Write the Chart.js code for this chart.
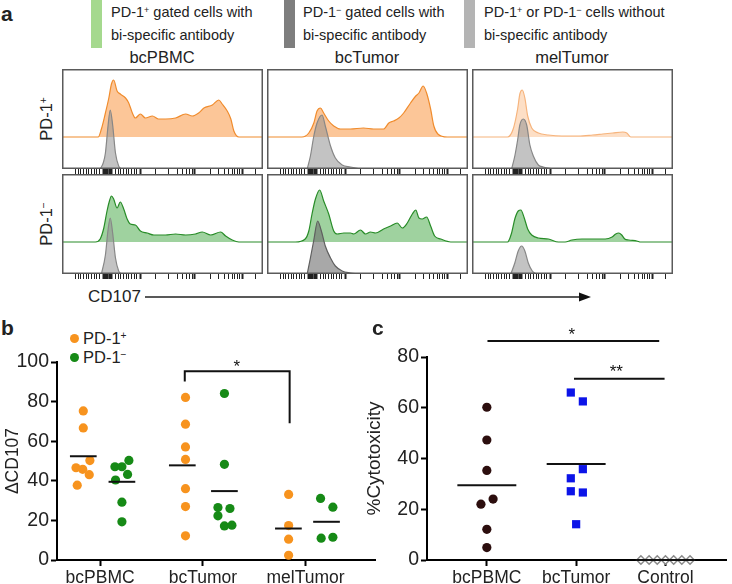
<!DOCTYPE html>
<html>
<head>
<meta charset="utf-8">
<script src="https://cdn.jsdelivr.net/npm/chart.js@4.4.1/dist/chart.umd.min.js"></script>
<style>
body { margin: 0; background: #fff; }
#fig { position: relative; width: 732px; height: 584px; overflow: hidden;
       font-family: "Liberation Sans", Arial, sans-serif; color: #222; }
#fig canvas, .abs { position: absolute; }
sup { font-size: 0.62em; line-height: 0; position: relative; top: -0.45em; vertical-align: baseline; }
.lg { position: absolute; font-size: 14.5px; line-height: 23px; white-space: nowrap; }
.sw { position: absolute; top: 0; width: 11px; height: 48px; }
.ttl { position: absolute; top: 48px; font-size: 16.5px; transform: translateX(-50%); white-space: nowrap; }
.rot { position: absolute; font-size: 16.5px; white-space: nowrap; transform: translate(-50%, -50%) rotate(-90deg); }
.pl { position: absolute; font-size: 21px; font-weight: bold; }
.dot { position: absolute; width: 9px; height: 9px; border-radius: 50%; }
</style>
</head>
<body>
<div id="fig">
  <div class="pl" style="left:1px;top:2px">a</div>
  <div class="sw" style="left:91px;background:#a5d98e"></div>
  <div class="lg" style="left:111px;top:1px">PD-1<sup>+</sup> gated cells with<br>bi-specific antibody</div>
  <div class="sw" style="left:284px;background:#7e7e7e"></div>
  <div class="lg" style="left:303px;top:1px">PD-1<sup>−</sup> gated cells with<br>bi-specific antibody</div>
  <div class="sw" style="left:464px;background:#b4b4b4"></div>
  <div class="lg" style="left:484px;top:1px">PD-1<sup>+</sup> or PD-1<sup>−</sup> cells without<br>bi-specific antibody</div>

  <div class="ttl" style="left:162px">bcPBMC</div>
  <div class="ttl" style="left:367px">bcTumor</div>
  <div class="ttl" style="left:572px">melTumor</div>
  <div class="rot" style="left:46px;top:119px">PD-1<sup>+</sup></div>
  <div class="rot" style="left:46px;top:224px">PD-1<sup>−</sup></div>

  <svg class="abs" style="left:0;top:0" width="732" height="584">
    <line x1="145" y1="297" x2="581" y2="297" stroke="#222" stroke-width="1.3"/>
    <polygon points="579,292.5 591,297 579,301.5" fill="#111"/>
  </svg>
  <div class="abs" style="left:88px;top:287px;font-size:17px">CD107</div>

  <canvas id="h1" width="201" height="106" style="left:62px;top:69px"></canvas>
  <canvas id="h2" width="201" height="106" style="left:267px;top:69px"></canvas>
  <canvas id="h3" width="201" height="106" style="left:472px;top:69px"></canvas>
  <canvas id="h4" width="201" height="106" style="left:62px;top:174px"></canvas>
  <canvas id="h5" width="201" height="106" style="left:267px;top:174px"></canvas>
  <canvas id="h6" width="201" height="106" style="left:472px;top:174px"></canvas>

  <div class="pl" style="left:1px;top:316px">b</div>
  <div class="dot" style="left:70px;top:334px;background:#f7931e"></div>
  <div class="abs" style="left:83px;top:329px;font-size:16.5px">PD-1<sup>+</sup></div>
  <div class="dot" style="left:70px;top:353px;background:#168a16"></div>
  <div class="abs" style="left:83px;top:348px;font-size:16.5px">PD-1<sup>−</sup></div>
  <canvas id="cb" width="380" height="264" style="left:0;top:320px"></canvas>

  <div class="pl" style="left:372px;top:316px">c</div>
  <canvas id="cc" width="372" height="264" style="left:360px;top:320px"></canvas>
</div>

<script>
Chart.defaults.font.family = '"Liberation Sans", Arial, sans-serif';
Chart.defaults.color = '#222';

// ---------- a: CD107 histograms (x in % of axis, y in counts above baseline) ----------
const axisMinor = [6.6, 8, 9.3, 10.6, 12, 13.3, 14.6, 16, 17.3, 18.6, 26.6, 28, 29.3, 30.6, 32, 33.3, 34.6, 36, 37.2,
  46.5, 53, 57.3, 60, 61.8, 63.5, 64.8, 73.9, 78, 81, 83, 84.7, 86, 87.2, 88.4, 96.3];
const axisZero = [20.4, 21, 21.6, 22.2, 22.8, 23.4, 24, 24.6];
const axisMajor = [39, 66.1, 89.7];

const pbmcPosX = [0, 18, 19.6, 21.6, 23.3, 24.6, 25.7, 27.4, 29, 31.6, 33.2, 35, 36.5, 39, 41.5, 45, 48, 51.5, 56.5, 61.5, 64.8, 68, 70.6, 74.8, 78, 79.7, 82.2, 84, 85.5, 88, 100];
const pbmcPosY = [0, 0, 8, 24, 39, 53, 57, 46, 43, 39, 34, 24, 19, 23, 19, 21, 18, 18, 19, 23, 21, 24, 29, 32, 37, 33, 26, 18, 6, 0, 0];
const pbmcPosGrayX = [19, 20.5, 21.6, 22.9, 24, 25.2, 26.6, 28.2, 29.5];
const pbmcPosGrayY = [0, 6, 16, 43, 59, 44, 16, 3, 0];

const tumPosX = [0, 17.4, 20.8, 23.3, 24.9, 26.6, 28.2, 30.7, 33.2, 36.5, 41.5, 48, 53, 58, 60.6, 63, 65.6, 68, 71.4, 74, 75.6, 77.7, 79.4, 81.4, 83, 85, 89.7, 100];
const tumPosY = [0, 0, 4, 14, 26, 29, 24, 16, 11, 8, 8, 9, 8, 8, 14, 16, 19, 24, 34, 41, 44, 51, 44, 28, 11, 3, 0, 0];
const tumPosGrayX = [20, 21.6, 23.3, 24.9, 27.4, 29, 31.6, 34, 37.4, 41.5, 46.5];
const tumPosGrayY = [0, 13, 33, 46, 54, 43, 23, 11, 4, 2, 0];

const melPosX = [0, 17.7, 20.5, 22.7, 23.8, 25, 26.3, 27.7, 29.7, 33, 38, 44.7, 53, 60, 65, 70, 75, 77, 79, 100];
const melPosY = [0, 0, 8, 28, 43, 47, 39, 21, 9, 4, 2, 1, 1, 2, 3, 4, 5, 4, 0, 0];
const melPosGrayX = [19.7, 21.3, 22.7, 23.8, 25.5, 27.2, 28.8, 30.5, 33, 35.5, 40];
const melPosGrayY = [0, 13, 29, 44, 50, 44, 24, 13, 4, 2, 0];

const pbmcNegX = [0, 16.6, 19, 20.8, 22.4, 23.6, 24.6, 25.7, 27.4, 29, 30.7, 32.4, 34, 36.5, 39, 42.4, 45.7, 51.5, 56.5, 61.5, 66.4, 69.8, 74, 78.9, 81.4, 84.7, 88, 100];
const pbmcNegY = [0, 0, 3, 14, 31, 41, 46, 43, 34, 40, 33, 23, 18, 17, 11, 9, 7, 7, 8, 7, 8, 10, 7, 10, 6, 2, 0, 0];
const pbmcNegGrayX = [19.6, 21.6, 22.9, 24, 25.2, 26.6, 28.2, 29.5];
const pbmcNegGrayY = [0, 19, 44, 56, 41, 16, 3, 0];

const tumNegX = [0, 14.1, 19, 20.8, 22.4, 24.1, 26.2, 28.2, 30.7, 33.2, 34.9, 38.2, 41.5, 43.2, 46.5, 49, 51.5, 54, 58, 61.5, 64.8, 67.3, 69.8, 72.3, 74, 75.6, 77.2, 79.4, 81.4, 83.4, 86.4, 91.4, 100];
const tumNegY = [0, 0, 3, 11, 28, 43, 52, 41, 28, 11, 8, 9, 9, 8, 12, 8, 10, 9, 13, 16, 19, 14, 19, 28, 32, 24, 23, 25, 16, 6, 3, 0, 0];
const tumNegGrayX = [20, 21.6, 23.3, 25.2, 26.9, 29, 31.6, 34, 37.4, 41.5, 44.9];
const tumNegGrayY = [0, 16, 34, 53, 44, 28, 16, 8, 3, 1, 0];

const melNegX = [0, 17.7, 19.7, 21.3, 23, 24.3, 26, 27.7, 29.7, 33, 38, 43, 46.3, 49.7, 54.7, 61.3, 66.3, 69.7, 71.5, 73, 74.5, 76, 78, 82, 84, 100];
const melNegY = [0, 0, 9, 23, 31, 32, 24, 13, 7, 4, 3, 0, 0, 2, 3, 3, 3, 5, 8, 9, 7, 3, 2, 1, 0, 0];
const melNegGrayX = [19.3, 21.3, 23, 24.7, 26.3, 28, 30, 32];
const melNegGrayY = [0, 11, 23, 28, 23, 11, 3, 0];

// ---------- b: ΔCD107 ----------
const bCats = ['bcPBMC', 'bcTumor', 'melTumor'];
const bPosX = [0.836, 0.836, 0.90, 0.765, 0.83, 0.894, 0.777, 1.831, 1.831, 1.831, 1.831, 1.831, 1.831, 1.831, 2.835, 2.835, 2.835, 2.835];
const bPosY = [75.3, 66.7, 50.2, 46.6, 45.8, 43.1, 37.8, 82.1, 68.6, 57.1, 50.8, 36.0, 27.0, 12.2, 33.1, 17.4, 10.5, 2.4];
const bNegX = [1.144, 1.212, 1.28, 1.267, 1.15, 1.212, 1.212, 2.21, 2.21, 2.147, 2.264, 2.147, 2.21, 2.283, 3.146, 3.266, 3.152, 3.266];
const bNegY = [47.1, 47.1, 50.3, 43.2, 40.4, 29.2, 19.3, 84.1, 48.3, 26.5, 26.0, 22.3, 17.2, 17.6, 31.1, 26.7, 11.0, 11.5];
const bMeanX = [0.836, 1.212, 1.80, 2.21, 2.833, 3.204];
const bMeanY = [52.4, 39.5, 47.8, 34.8, 15.9, 19.3];

// ---------- c: %Cytotoxicity ----------
const cCats = ['bcPBMC', 'bcTumor', 'Control'];
const cPbmcX = [1, 1, 1, 1.07, 0.934, 1, 1];
const cPbmcY = [60.2, 47.3, 35.3, 24.0, 22.0, 12.1, 4.9];
const cTumX = [1.94, 2.075, 2.075, 1.94, 1.94, 2.075, 2.0];
const cTumY = [66.0, 62.5, 35.8, 32.2, 27.1, 26.6, 14.1];
const cCtrlX = [2.725, 2.817, 2.908, 3.0, 3.092, 3.183, 3.275];
const cCtrlY = [0, 0, 0, 0, 0, 0, 0];
const cMeanX = [1, 2, 3];
const cMeanY = [29.5, 37.8, 0];

const BASE = 32;
const pts = (xs, ys, off) => xs.map((x, i) => ({ x: x, y: ys[i] + (off || 0) }));

const frame = {
  id: 'frame',
  afterDraw(chart) {
    const a = chart.chartArea, ctx = chart.ctx;
    ctx.save();
    ctx.strokeStyle = '#5a5a5a';
    ctx.lineWidth = 1.5;
    ctx.strokeRect(a.left + 0.75, a.top + 0.75, a.right - a.left - 1.5, a.bottom - a.top - 1.5);
    ctx.restore();
  }
};

const sig = {
  id: 'sig',
  afterDatasetsDraw(chart, args, opts) {
    const { ctx, scales: { x, y } } = chart;
    ctx.save();
    ctx.strokeStyle = '#111';
    ctx.lineWidth = 2;
    (opts.paths || []).forEach(p => {
      ctx.beginPath();
      p.forEach(([a, b], i) => {
        const px = x.getPixelForValue(a), py = y.getPixelForValue(b);
        i ? ctx.lineTo(px, py) : ctx.moveTo(px, py);
      });
      ctx.stroke();
    });
    ctx.fillStyle = '#111';
    ctx.font = '17px "Liberation Sans", Arial, sans-serif';
    ctx.textAlign = 'center';
    ctx.textBaseline = 'middle';
    (opts.stars || []).forEach(s => ctx.fillText(s.t, x.getPixelForValue(s.x), y.getPixelForValue(s.y) + 4));
    ctx.restore();
  }
};

const orange = { line: 'rgb(240,140,45)', fill: 'rgba(250,163,88,0.62)' };
const orangePale = { line: 'rgb(246,180,125)', fill: 'rgba(250,178,120,0.42)' };
const green = { line: 'rgb(40,140,40)', fill: 'rgba(95,180,95,0.6)' };
const grayLt = { line: 'rgb(135,135,135)', fill: 'rgba(145,145,145,0.55)' };
const grayDk = { line: 'rgb(95,95,95)', fill: 'rgba(110,110,110,0.6)' };

function histogram(id, colX, colY, grayX, grayY, pal, gpal) {
  return new Chart(document.getElementById(id), {
    type: 'line',
    data: {
      datasets: [
        { data: pts(grayX, grayY), borderColor: gpal.line, backgroundColor: gpal.fill, fill: 'origin', borderWidth: 1.2 },
        { data: pts(colX, colY, BASE), borderColor: pal.line, backgroundColor: pal.fill, fill: { value: BASE }, borderWidth: 1.2 }
      ]
    },
    options: {
      responsive: false,
      animation: false,
      layout: { padding: 0 },
      elements: { point: { radius: 0 }, line: { cubicInterpolationMode: 'monotone' } },
      plugins: { legend: { display: false }, tooltip: { enabled: false } },
      scales: {
        x: {
          type: 'linear', min: 0, max: 100,
          afterBuildTicks: s => { s.ticks = axisMinor.concat(axisZero, axisMajor).map(v => ({ value: v })); },
          afterFit: s => { s.height = 6; },
          ticks: { display: false, autoSkip: false },
          border: { display: false },
          grid: {
            drawOnChartArea: false, tickLength: 5, tickColor: '#222',
            tickWidth: c => (axisMajor.includes(c.tick.value) || axisZero.includes(c.tick.value)) ? 2 : 1
          }
        },
        y: { display: false, min: 0, max: 100 }
      }
    },
    plugins: [frame]
  });
}

histogram('h1', pbmcPosX, pbmcPosY, pbmcPosGrayX, pbmcPosGrayY, orange, grayLt);
histogram('h2', tumPosX, tumPosY, tumPosGrayX, tumPosGrayY, orange, grayLt);
histogram('h3', melPosX, melPosY, melPosGrayX, melPosGrayY, orangePale, grayLt);
histogram('h4', pbmcNegX, pbmcNegY, pbmcNegGrayX, pbmcNegGrayY, green, grayLt);
histogram('h5', tumNegX, tumNegY, tumNegGrayX, tumNegGrayY, green, grayDk);
histogram('h6', melNegX, melNegY, melNegGrayX, melNegGrayY, green, grayLt);

function meanLines(xs, ys, half) {
  return xs.map((x, i) => ({
    type: 'scatter', showLine: true, data: [{ x: x - half, y: ys[i] }, { x: x + half, y: ys[i] }],
    borderColor: '#111', borderWidth: 2, pointRadius: 0, clip: false
  }));
}

function dotAxes(cats, xmin, xmax, ymax, yWidth, title, titleSize) {
  return {
    x: {
      type: 'linear', min: xmin, max: xmax,
      afterBuildTicks: s => { s.ticks = [1, 2, 3].map(v => ({ value: v })); },
      afterFit: s => { s.height = 24; },
      ticks: { autoSkip: false, padding: 2, font: { size: 17.5 }, callback: v => cats[Math.round(v) - 1] },
      border: { color: '#000', width: 2 },
      grid: { drawOnChartArea: false, tickLength: 6, tickColor: '#000', tickWidth: 2 }
    },
    y: {
      min: 0, max: ymax,
      afterBuildTicks: s => { const t = []; for (let v = 0; v <= ymax; v += 20) t.push({ value: v }); s.ticks = t; },
      afterFit: s => { s.width = yWidth; },
      ticks: { padding: 2, font: { size: 19.5 } },
      border: { color: '#000', width: 2 },
      grid: { drawOnChartArea: false, tickLength: 6, tickColor: '#000', tickWidth: 2 },
      title: { display: true, text: title, font: { size: titleSize }, padding: { top: 3, bottom: 0 } }
    }
  };
}

new Chart(document.getElementById('cb'), {
  type: 'scatter',
  data: {
    datasets: meanLines(bMeanX, bMeanY, 0.13).concat([
      { data: pts(bPosX, bPosY), backgroundColor: '#f7931e', borderWidth: 0, pointRadius: 4.6, clip: false },
      { data: pts(bNegX, bNegY), backgroundColor: '#168a16', borderWidth: 0, pointRadius: 4.6, clip: false }
    ])
  },
  options: {
    responsive: false, animation: false,
    layout: { padding: { top: 42, right: 4, left: 0, bottom: 0 } },
    plugins: {
      legend: { display: false }, tooltip: { enabled: false },
      sig: {
        paths: [[[1.824, 90.2], [1.824, 95.3], [2.845, 95.3], [2.845, 69.1]]],
        stars: [{ t: '*', x: 2.33, y: 99.5 }]
      }
    },
    scales: dotAxes(bCats, 0.58, 3.68, 100, 57, 'ΔCD107', 17.5)
  },
  plugins: [sig]
});

new Chart(document.getElementById('cc'), {
  type: 'scatter',
  data: {
    datasets: meanLines(cMeanX, cMeanY, 0.33).concat([
      { data: pts(cPbmcX, cPbmcY), backgroundColor: '#2c0e0e', borderWidth: 0, pointRadius: 4.6, clip: false },
      { data: pts(cTumX, cTumY), backgroundColor: '#0c14e8', borderWidth: 0, pointStyle: 'rect', pointRadius: 5.8, clip: false },
      { data: pts(cCtrlX, cCtrlY), backgroundColor: '#fff', borderColor: '#8a8a8a', borderWidth: 1.5, pointStyle: 'rectRot', pointRadius: 4.2, clip: false }
    ])
  },
  options: {
    responsive: false, animation: false,
    layout: { padding: { top: 37, right: 0, left: 0, bottom: 0 } },
    plugins: {
      legend: { display: false }, tooltip: { enabled: false },
      sig: {
        paths: [[[1.007, 86.3], [2.93, 86.3]], [[1.976, 71.4], [2.99, 71.4]]],
        stars: [{ t: '*', x: 1.95, y: 90.1 }, { t: '**', x: 2.45, y: 75.6 }]
      }
    },
    scales: dotAxes(cCats, 0.33, 3.68, 80, 67, '%Cytotoxicity', 19)
  },
  plugins: [sig]
});
</script>
</body>
</html>
